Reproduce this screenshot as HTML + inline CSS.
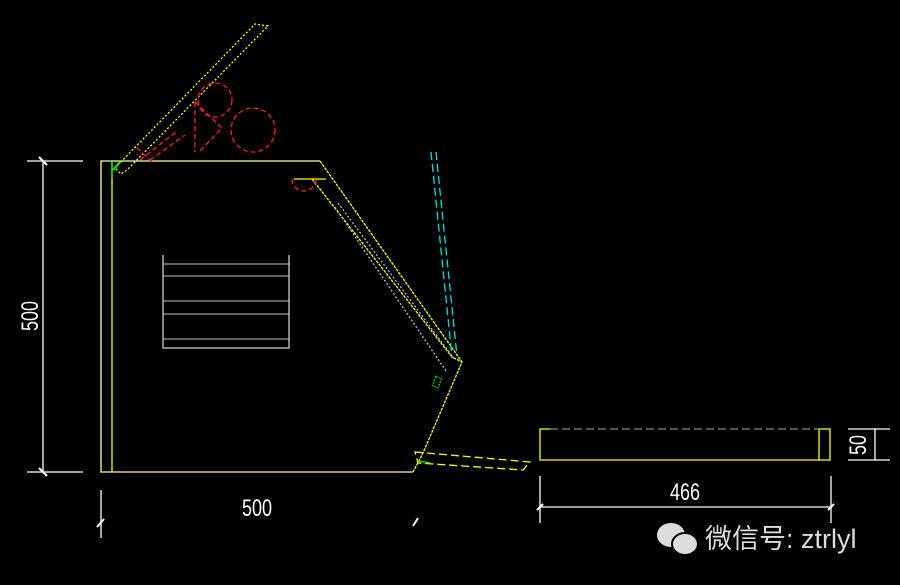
<!DOCTYPE html>
<html><head><meta charset="utf-8"><style>
body{margin:0;background:#000;width:900px;height:585px;overflow:hidden}
svg{display:block}
</style></head><body>
<svg width="900" height="585" viewBox="0 0 900 585" xmlns="http://www.w3.org/2000/svg">
<rect width="900" height="585" fill="#000"/>
<g fill="none" stroke-width="1.3">
<polyline points="320,161 101,161 101,472 413,472" stroke="#ffffa0"/>
<line x1="112" y1="161" x2="112" y2="472" stroke="#ffff00"/>
<line x1="112" y1="161" x2="112" y2="178" stroke="#00ff00"/>
<polyline points="320,161 462,362 423,453 413,472" stroke="#ffff00" stroke-dasharray="3,1"/>
<polyline points="312,179 452,357 462,362" stroke="#ffff00" stroke-dasharray="3,1"/>
<line x1="294" y1="179" x2="326" y2="179" stroke="#ffff00"/>
<line x1="335" y1="207" x2="446" y2="371" stroke="#bbb" stroke-dasharray="2,2"/>
<line x1="338" y1="203" x2="455" y2="360" stroke="#bbb" stroke-dasharray="2,2"/>
<line x1="431" y1="152" x2="452" y2="357" stroke="#00e0e0" stroke-dasharray="8,4"/>
<line x1="436" y1="152" x2="457" y2="356" stroke="#00e0e0" stroke-dasharray="8,4"/>
<rect x="434" y="377" width="6" height="10" stroke="#00c000" transform="rotate(20 437 382)" stroke-dasharray="2,1"/>
<polygon points="415,452 530,462 523,470 418,463" stroke="#ffff00" stroke-dasharray="8,4"/>
<line x1="418" y1="461" x2="430" y2="463" stroke="#00ff00"/>
<polyline points="115,168 255,24 268,26 127,170 121,174 115,168" stroke="#ffff00" stroke-dasharray="2,2"/>
<line x1="113" y1="170" x2="120" y2="162" stroke="#00ff00" stroke-width="2"/>
<g stroke="#ff2020" stroke-dasharray="5,3">
<circle cx="253" cy="130" r="22"/>
<circle cx="215" cy="100" r="17"/>
<line x1="195" y1="102" x2="195" y2="152"/>
<polyline points="195,102 222,128 199,152"/>
<line x1="140" y1="160" x2="176" y2="132"/>
<line x1="150" y1="160" x2="185" y2="135"/>
<line x1="152" y1="162" x2="135" y2="146"/>
<path d="M292,179 A12,12 0 0 0 316,179"/>
</g>
<g stroke="#999">
<line x1="163" y1="264" x2="289" y2="264"/><line x1="163" y1="276" x2="289" y2="276"/>
<line x1="163" y1="301" x2="289" y2="301"/><line x1="163" y1="314" x2="289" y2="314"/>
<line x1="163" y1="339" x2="289" y2="339"/>
</g>
<polyline points="163,255 163,348 289,348 289,255" stroke="#ccc"/>
<g stroke="#fff">
<line x1="43" y1="161" x2="43" y2="472"/>
<line x1="27" y1="161" x2="83" y2="161"/><line x1="27" y1="472" x2="83" y2="472"/>
<line x1="39" y1="157" x2="47" y2="165" stroke-width="2"/><line x1="39" y1="468" x2="47" y2="476" stroke-width="2"/>
<line x1="101" y1="490" x2="101" y2="538"/><line x1="97" y1="527" x2="104" y2="519" stroke-width="2"/>
<line x1="413" y1="526" x2="418" y2="518" stroke-width="2"/>
<line x1="540" y1="476" x2="540" y2="523"/><line x1="831" y1="476" x2="831" y2="523"/>
<line x1="540" y1="507" x2="831" y2="507"/>
<line x1="537" y1="510" x2="543" y2="504" stroke-width="2"/><line x1="828" y1="510" x2="834" y2="504" stroke-width="2"/>
<line x1="848" y1="429" x2="890" y2="429"/><line x1="848" y1="460" x2="890" y2="460"/>
<line x1="875" y1="429" x2="875" y2="460"/>
</g>
<polyline points="550,429 540,429 540,460 830,460 830,429 819,429 819,460" stroke="#ffff00"/>
<line x1="550" y1="429" x2="819" y2="429" stroke="#888" stroke-dasharray="8,4"/>
</g>
<g fill="#fff" font-family="Liberation Sans, sans-serif" font-size="24">
<text transform="translate(257,516) scale(0.75,1)" text-anchor="middle">500</text>
<text transform="translate(685,500) scale(0.75,1)" text-anchor="middle">466</text>
<text transform="translate(38,316) rotate(-90) scale(0.75,1)" text-anchor="middle">500</text>
<text transform="translate(866,445) rotate(-90) scale(0.75,1)" text-anchor="middle">50</text>
</g>
<g fill="#ddd">
<ellipse cx="671" cy="535" rx="14" ry="12"/>
<ellipse cx="685" cy="544" rx="13" ry="11" stroke="#000" stroke-width="2"/>
</g>
<text x="705" y="548" fill="#ddd" font-family="Liberation Sans, Noto Sans CJK SC, sans-serif" font-size="27">微信号: ztrlyl</text>
</svg>
</body></html>
